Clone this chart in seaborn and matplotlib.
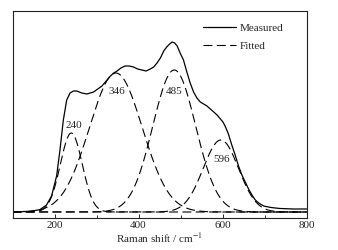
import numpy as np
import matplotlib
matplotlib.use("Agg")
import matplotlib.pyplot as plt
from matplotlib.lines import Line2D
from matplotlib.ticker import MultipleLocator
import seaborn as sns

# measured spectrum
shift = [100, 141, 165, 181, 193, 205, 213, 221, 229, 237, 245, 253, 265, 277, 285,
         293, 303, 313, 323, 333, 341, 349, 358, 368, 378, 388, 398, 408, 418, 428,
         436, 444, 452, 460, 467, 474, 480, 486, 492, 499, 507, 515, 523, 531, 539,
         547, 555, 563, 571, 579, 587, 595, 601, 606, 614, 622, 630, 638, 646, 654,
         662, 670, 678, 686, 698, 715, 737, 770, 800]
measured = [0, 0.7, 2.3, 7, 16, 36, 62, 92, 112, 119, 121, 121, 119, 118, 119,
            120, 123, 126, 131, 136, 139, 141, 144, 146, 146, 145, 143, 142, 141, 143,
            145, 149, 154, 161, 165, 168, 170, 169, 166, 159, 152, 140, 129, 120, 114,
            110, 108, 106, 103, 100, 97, 93, 90, 86, 78, 67, 57, 46, 37, 30,
            23, 17, 12, 9, 6, 4.5, 3.5, 3, 3]

# fitted peaks
peak_pos = [240, 346, 485, 596]
peak_height = [79, 139, 142, 72]
peak_sigma = [26, 63, 51, 42]
peak_labels = ["240", "346", "485", "596"]
label_x = [245, 349, 484, 598]
label_y = [86, 121, 121, 52]

sns.set_style("ticks")
plt.rcParams["font.family"] = ["Liberation Serif", "DejaVu Serif"]
plt.rcParams["mathtext.fontset"] = "stix"

fig = plt.figure(figsize=(3.38, 2.5), dpi=100)
ax = fig.add_axes([0.037, 0.128, 0.870, 0.828])

sns.lineplot(x=shift, y=measured, ax=ax, color="black", lw=0.9)

xs = np.linspace(100, 800, 701)
for c, h, s in zip(peak_pos, peak_height, peak_sigma):
    ys = h * np.exp(-0.5 * ((xs - c) / s) ** 2)
    sns.lineplot(x=xs, y=ys, ax=ax, color="black", lw=0.8, linestyle=(0, (8, 4)))

for t, lx, ly in zip(peak_labels, label_x, label_y):
    ax.text(lx, ly, t, ha="center", va="center", fontsize=8)

ax.set_xlim(100, 800)
ax.set_ylim(-6, 201)
ax.set_yticks([])
ax.xaxis.set_major_locator(MultipleLocator(200))
ax.xaxis.set_minor_locator(MultipleLocator(100))
ax.tick_params(axis="x", which="both", direction="in", labelsize=8, pad=2)
ax.tick_params(axis="x", which="major", length=3, width=0.7)
ax.tick_params(axis="x", which="minor", length=2, width=0.7)
ax.set_xlabel("Raman shift / cm$^{-1}$", fontsize=8, labelpad=1)
for sp in ax.spines.values():
    sp.set_linewidth(0.8)
    sp.set_color("#222222")

handles = [Line2D([], [], color="black", lw=0.9),
           Line2D([], [], color="black", lw=0.8, linestyle=(0, (8, 4)))]
ax.legend(handles, ["Measured", "Fitted"], loc="upper left",
          bbox_to_anchor=(0.63, 0.97), frameon=False, fontsize=8,
          handlelength=2.9, handletextpad=0.4, labelspacing=0.8, borderpad=0)

fig.savefig("out.png", dpi=100)
